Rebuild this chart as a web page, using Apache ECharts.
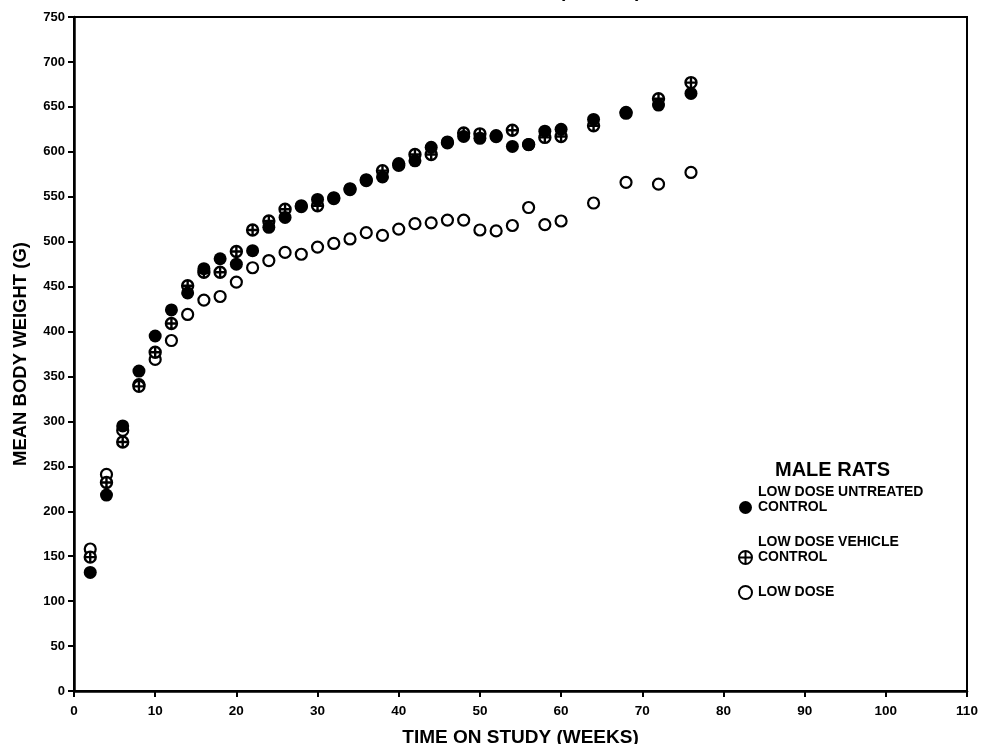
<!DOCTYPE html>
<html>
<head>
<meta charset="utf-8">
<script src="https://cdn.jsdelivr.net/npm/echarts@6/dist/echarts.min.js"></script>
<style>
  html, body { margin: 0; padding: 0; background: #fff; }
  #chart { width: 986px; height: 744px; }
</style>
</head>
<body>
<div id="chart"></div>
<script>
// weeks on study
const weeks = [2, 4, 6, 8, 10, 12, 14, 16, 18, 20, 22, 24, 26, 28, 30, 32, 34, 36, 38, 40, 42, 44, 46, 48, 50, 52, 54, 56, 58, 60, 64, 68, 72, 76];
// mean body weight (g)
const untreated = [132, 218, 295, 356, 395, 424, 443, 470, 481, 475, 490, 516, 527, 540, 547, 549, 559, 569, 572, 587, 590, 605, 611, 617, 615, 618, 606, 608, 623, 625, 636, 644, 652, 665];
const vehicle = [149, 232, 277, 339, 377, 409, 451, 466, 466, 489, 513, 523, 536, 539, 540, 548, 558, 568, 579, 585, 597, 597, 610, 621, 620, 617, 624, 608, 616, 617, 629, 643, 659, 677];
const lowDose = [158, 241, 290, 341, 369, 390, 419, 435, 439, 455, 471, 479, 488, 486, 494, 498, 503, 510, 507, 514, 520, 521, 524, 524, 513, 512, 518, 538, 519, 523, 543, 566, 564, 577];

const seriesNames = ["LOW DOSE UNTREATED CONTROL", "LOW DOSE VEHICLE CONTROL", "LOW DOSE"];
const legendLabels = {
  "LOW DOSE UNTREATED CONTROL": "LOW DOSE UNTREATED\nCONTROL\n ",
  "LOW DOSE VEHICLE CONTROL": "LOW DOSE VEHICLE\nCONTROL\n ",
  "LOW DOSE": "LOW DOSE",
};

const font = "'Liberation Sans', Arial, sans-serif";
const crossCircle = "path://M0,10 A10,10 0 1,1 20,10 A10,10 0 1,1 0,10 Z M10,0 L10,20 M0,10 L20,10";

function pairs(ys) {
  return weeks.map((w, i) => [w, ys[i]]);
}

const chart = echarts.init(document.getElementById("chart"));

chart.setOption({
  backgroundColor: "#fff",
  animation: false,
  textStyle: { fontFamily: font },
  title: [
    {
      // caption of the page above, almost cut off
      text: "TIME ON STUDY (WEEKS)",
      left: 400,
      top: -23,
      textStyle: { fontFamily: font, fontWeight: "bold", fontSize: 19, color: "#000" },
    },
    {
      text: "MALE RATS",
      left: 770,
      top: 455,
      textStyle: { fontFamily: font, fontWeight: "bold", fontSize: 20, color: "#000" },
    },
  ],
  legend: {
    orient: "vertical",
    left: 733,
    top: 480,
    itemGap: 5,
    itemWidth: 13,
    itemHeight: 13,
    data: seriesNames,
    formatter: (name) => legendLabels[name],
    textStyle: {
      fontFamily: font,
      fontWeight: "bold",
      fontSize: 14,
      lineHeight: 15,
      color: "#000",
      padding: [0, 0, 0, 1],
    },
  },
  grid: {
    left: 74,
    right: 19,
    top: 17,
    bottom: 53,
    outerBoundsMode: "none",
    show: true,
    borderColor: "#000",
    borderWidth: 2,
  },
  xAxis: {
    type: "value",
    min: 0,
    max: 110,
    interval: 10,
    name: "TIME ON STUDY (WEEKS)",
    nameLocation: "middle",
    nameGap: 37,
    nameTextStyle: { fontFamily: font, fontWeight: "bold", fontSize: 19, color: "#000" },
    axisLine: { lineStyle: { color: "#000", width: 2.5 } },
    axisTick: { length: 6, lineStyle: { color: "#000", width: 2 } },
    axisLabel: { fontFamily: font, fontWeight: "bold", fontSize: 13.5, color: "#000", margin: 13 },
    splitLine: { show: false },
  },
  yAxis: {
    type: "value",
    min: 0,
    max: 750,
    interval: 50,
    name: "MEAN BODY WEIGHT (G)",
    nameLocation: "middle",
    nameGap: 44,
    nameTextStyle: { fontFamily: font, fontWeight: "bold", fontSize: 18.5, color: "#000" },
    axisLine: { lineStyle: { color: "#000", width: 2.5 } },
    axisTick: { length: 6, lineStyle: { color: "#000", width: 2 } },
    axisLabel: { fontFamily: font, fontWeight: "bold", fontSize: 13, color: "#000", margin: 9 },
    splitLine: { show: false },
  },
  series: [
    {
      name: "LOW DOSE",
      type: "scatter",
      symbol: "circle",
      symbolSize: 11,
      itemStyle: { color: "#fff", borderColor: "#000", borderWidth: 2.2, opacity: 1 },
      data: pairs(lowDose),
    },
    {
      name: "LOW DOSE VEHICLE CONTROL",
      type: "scatter",
      symbol: crossCircle,
      symbolSize: 11,
      itemStyle: { color: "#fff", borderColor: "#000", borderWidth: 2.4, opacity: 1 },
      data: pairs(vehicle),
    },
    {
      name: "LOW DOSE UNTREATED CONTROL",
      type: "scatter",
      symbol: "circle",
      symbolSize: 13,
      itemStyle: { color: "#000", opacity: 1 },
      data: pairs(untreated),
    },
  ],
});
</script>
</body>
</html>
